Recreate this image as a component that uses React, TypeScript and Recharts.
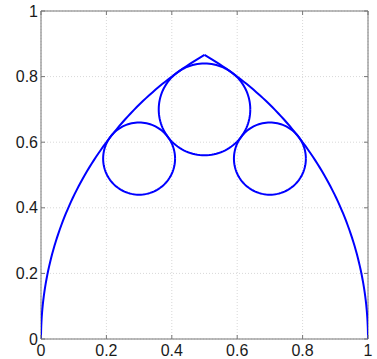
import { CartesianGrid, Line, LineChart, ReferenceArea, XAxis, YAxis } from "recharts";

// outer arcs: centre, radius, start / end angle (degrees)
const arcCx = [1, 0];
const arcCy = [0, 0];
const arcR = [1, 1];
const arcFrom = [180, 0];
const arcTo = [120, 60];

// inscribed circles
const circleCx = [0.5, 0.3, 0.7];
const circleCy = [0.7, 0.55, 0.55];
const circleR = [0.14, 0.11, 0.11];

const TICKS = [0, 0.2, 0.4, 0.6, 0.8, 1];

const W = 377;
const H = 359;
const M = { top: 11, right: 9, left: 0, bottom: 0 };
const Y_AXIS_W = 41;
const X_AXIS_H = 20;
const PLOT_TOP = M.top;
const PLOT_RIGHT = W - M.right;

const BLUE = "#0000ff";
const FRAME = "#777";

type Pt = { x: number; y: number };

function arcPoints(cx: number, cy: number, r: number, a0: number, a1: number, n: number): Pt[] {
  const pts: Pt[] = [];
  for (let i = 0; i <= n; i++) {
    const a = ((a0 + ((a1 - a0) * i) / n) * Math.PI) / 180;
    pts.push({ x: cx + r * Math.cos(a), y: cy + r * Math.sin(a) });
  }
  return pts;
}

const arcs = arcCx.map((cx, i) => arcPoints(cx, arcCy[i], arcR[i], arcFrom[i], arcTo[i], 80));
const circles = circleCx.map((cx, i) => arcPoints(cx, circleCy[i], circleR[i], 0, 360, 120));

const fmt = (v: number) => String(Number(v.toFixed(1)));

const XTick = (props: any) => {
  const { x, y, payload } = props;
  return (
    <g>
      <line x1={x} x2={x} y1={y} y2={y - 4} stroke={FRAME} />
      <line x1={x} x2={x} y1={PLOT_TOP} y2={PLOT_TOP + 4} stroke={FRAME} />
      <text x={x} y={y + 11} textAnchor="middle" dominantBaseline="central" fontSize={16} fill="#1a1a1a">
        {fmt(payload.value)}
      </text>
    </g>
  );
};

const YTick = (props: any) => {
  const { x, y, payload } = props;
  return (
    <g>
      <line x1={x} x2={x + 4} y1={y} y2={y} stroke={FRAME} />
      <line x1={PLOT_RIGHT} x2={PLOT_RIGHT - 4} y1={y} y2={y} stroke={FRAME} />
      <text x={x - 3} y={y} textAnchor="end" dominantBaseline="central" fontSize={16} fill="#1a1a1a">
        {fmt(payload.value)}
      </text>
    </g>
  );
};

export default function App() {
  return (
    <div style={{ position: "fixed", left: 0, top: 0, width: W, height: H, background: "#fff", fontFamily: "'Liberation Sans', Arial, sans-serif" }}>
      <LineChart width={W} height={H} margin={M}>
        <CartesianGrid stroke="#d8d8d8" strokeDasharray="1 2" />
        <XAxis
          type="number"
          dataKey="x"
          domain={[0, 1]}
          ticks={TICKS}
          height={X_AXIS_H}
          tickSize={0}
          tickMargin={0}
          axisLine={false}
          tickLine={false}
          tick={<XTick />}
          allowDataOverflow
        />
        <YAxis
          type="number"
          dataKey="y"
          domain={[0, 1]}
          ticks={TICKS}
          width={Y_AXIS_W}
          tickSize={0}
          tickMargin={0}
          axisLine={false}
          tickLine={false}
          tick={<YTick />}
          allowDataOverflow
        />
        <ReferenceArea x1={0} x2={1} y1={0} y2={1} fill="none" stroke={FRAME} strokeWidth={1} ifOverflow="visible" />
        {arcs.map((pts, i) => (
          <Line
            key={`arc${i}`}
            data={pts}
            dataKey="y"
            type="linear"
            stroke={BLUE}
            strokeWidth={2}
            dot={false}
            activeDot={false}
            isAnimationActive={false}
          />
        ))}
        {circles.map((pts, i) => (
          <Line
            key={`circle${i}`}
            data={pts}
            dataKey="y"
            type="linear"
            stroke={BLUE}
            strokeWidth={2}
            dot={false}
            activeDot={false}
            isAnimationActive={false}
          />
        ))}
      </LineChart>
    </div>
  );
}
